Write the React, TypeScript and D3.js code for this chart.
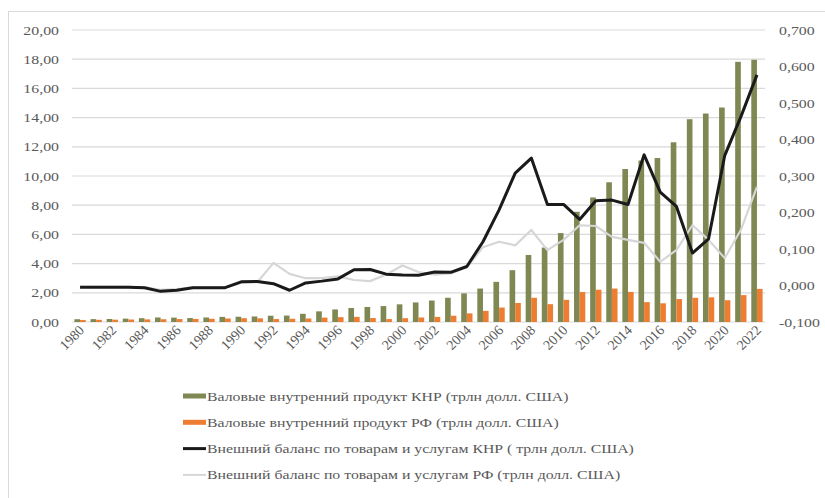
import * as d3 from "d3"

const years = d3.range(1980, 2023).map(String)

// ВВП КНР, трлн долл. США
const gdpChina = [
  0.19, 0.196, 0.205, 0.23, 0.26, 0.31, 0.3, 0.27, 0.31, 0.35,
  0.36, 0.38, 0.43, 0.44, 0.56, 0.73, 0.86, 0.96, 1.03, 1.09,
  1.21, 1.34, 1.47, 1.66, 1.96, 2.29, 2.75, 3.55, 4.59, 5.1,
  6.09, 7.55, 8.53, 9.57, 10.48, 11.06, 11.23, 12.31, 13.89, 14.28,
  14.69, 17.82, 17.96,
]

// ВВП РФ, трлн долл. США
const gdpRussia = [
  0.14, 0.15, 0.16, 0.17, 0.18, 0.19, 0.2, 0.21, 0.22, 0.24,
  0.26, 0.25, 0.2, 0.22, 0.24, 0.3, 0.33, 0.35, 0.27, 0.2,
  0.26, 0.31, 0.35, 0.43, 0.59, 0.76, 0.99, 1.3, 1.66, 1.22,
  1.52, 2.05, 2.21, 2.29, 2.06, 1.36, 1.28, 1.57, 1.66, 1.69,
  1.49, 1.84, 2.27,
]

// Внешний баланс КНР, трлн долл. США (правая ось)
const balanceChina = [
  -0.005, -0.005, -0.005, -0.005, -0.006, -0.016, -0.013, -0.006, -0.006, -0.006,
  0.01, 0.011, 0.005, -0.013, 0.007, 0.012, 0.018, 0.043, 0.044, 0.031,
  0.029, 0.028, 0.037, 0.036, 0.052, 0.12, 0.207, 0.308, 0.349, 0.222,
  0.222, 0.181, 0.232, 0.234, 0.222, 0.358, 0.256, 0.217, 0.089, 0.128,
  0.356, 0.462, 0.577,
]

// Внешний баланс РФ, трлн долл. США (правая ось)
const balanceRussia = [
  -0.004, -0.004, -0.004, -0.004, -0.005, -0.012, -0.01, -0.005, -0.005, -0.005,
  0.008, 0.009, 0.062, 0.032, 0.02, 0.02, 0.025, 0.015, 0.012, 0.03,
  0.055, 0.037, 0.03, 0.033, 0.05, 0.105, 0.12, 0.11, 0.152, 0.097,
  0.125, 0.165, 0.163, 0.133, 0.125, 0.117, 0.065, 0.097, 0.165, 0.125,
  0.075, 0.152, 0.27,
]

const leftTicks = d3.range(0, 20.01, 2)
const rightTicks = d3.range(-0.1, 0.7001, 0.1)

const legendItems = [
  { label: "Валовые внутренний продукт КНР (трлн долл. США)", color: "#7f8753", width: 5 },
  { label: "Валовые внутренний продукт РФ (трлн долл. США)", color: "#ed7d31", width: 5 },
  { label: "Внешний баланс по товарам и услугам КНР ( трлн долл. США)", color: "#1a1a1a", width: 3 },
  { label: "Внешний баланс по товарам и услугам РФ (трлн долл. США)", color: "#d6d6d6", width: 2 },
]

const W = 825
const H = 498
const font = "Liberation Serif, DejaVu Serif, serif"
// исходная картинка растянута по горизонтали
const SX = 1.22
const SX_LEGEND = 1.17

export default function App() {
  const left = 72
  const right = 765
  const top = 30
  const bottom = 322

  const x = d3.scaleBand<string>().domain(years).range([left, right]).paddingInner(0.3).paddingOuter(0.15)
  const yL = d3.scaleLinear().domain([0, 20]).range([bottom, top])
  const yR = d3.scaleLinear().domain([-0.1, 0.7]).range([bottom, top])

  const bw = x.bandwidth() / 2
  const cx = (y: string) => (x(y) || 0) + x.bandwidth() / 2

  const fmtL = (v: number) => d3.format(".2f")(v).replace(".", ",")
  const fmtR = (v: number) => d3.format(".3f")(v).replace(".", ",").replace("−", "-")

  const line = d3
    .line<number>()
    .x((_, i) => cx(years[i]))
    .y((d) => yR(d))

  return (
    <div style={{ position: "absolute", left: 0, top: 0 }}>
      <svg width={W} height={H} style={{ display: "block" }} fontFamily={font}>
        <rect x={0} y={0} width={W} height={H} fill="#fff" />
        <rect x={8.5} y={11.5} width={W + 10} height={H + 10} fill="#fff" stroke="#d9d9d9" />

        {leftTicks.map((t) => (
          <line key={"g" + t} x1={left} x2={right} y1={yL(t)} y2={yL(t)} stroke="#d9d9d9" strokeWidth={1.2} />
        ))}

        {leftTicks.map((t) => (
          <text
            key={"l" + t}
            transform={`translate(59,${yL(t) + 4.5}) scale(${SX},1)`}
            textAnchor="end"
            fontSize={13}
            fontFamily={font}
            fill="#595959"
          >
            {fmtL(t)}
          </text>
        ))}
        {rightTicks.map((t) => (
          <text
            key={"r" + t}
            transform={`translate(779,${yR(t) + 4.5}) scale(${SX},1)`}
            textAnchor="start"
            fontSize={13}
            fontFamily={font}
            fill="#595959"
          >
            {fmtR(Math.round(t * 1000) / 1000)}
          </text>
        ))}

        {years.map((yr, i) => (
          <g key={"b" + yr}>
            <rect x={x(yr)} y={yL(gdpChina[i])} width={bw} height={bottom - yL(gdpChina[i])} fill="#7f8753" />
            <rect x={(x(yr) || 0) + bw} y={yL(gdpRussia[i])} width={bw} height={bottom - yL(gdpRussia[i])} fill="#ed7d31" />
          </g>
        ))}

        <path d={line(balanceRussia) || ""} fill="none" stroke="#d6d6d6" strokeWidth={2.2} strokeLinejoin="round" />
        <path d={line(balanceChina) || ""} fill="none" stroke="#1a1a1a" strokeWidth={3} strokeLinejoin="round" />

        {years
          .filter((_, i) => i % 2 === 0)
          .map((yr) => (
            <text
              key={"x" + yr}
              transform={`translate(${cx(yr) + 5},${bottom + 9}) rotate(-45)`}
              textAnchor="end"
              fontSize={14}
              fontFamily={font}
              fill="#595959"
            >
              {yr}
            </text>
          ))}

        {legendItems.map((d, i) => {
          const ly = 396 + i * 26.3
          return (
            <g key={"lg" + i}>
              <line x1={183} x2={206} y1={ly} y2={ly} stroke={d.color} strokeWidth={d.width} />
              <text
                transform={`translate(207,${ly + 4.5}) scale(${SX_LEGEND},1)`}
                fontSize={13.5}
                fontFamily={font}
                fill="#595959"
              >
                {d.label}
              </text>
            </g>
          )
        })}
      </svg>
    </div>
  )
}
